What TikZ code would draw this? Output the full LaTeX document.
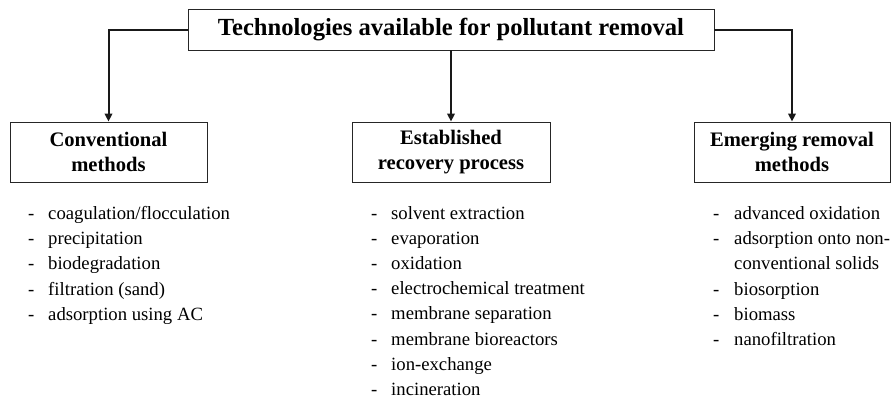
\documentclass[tikz,border=0pt]{standalone}
\usepackage{fontspec}
\setmainfont{Liberation Serif}
\usetikzlibrary{arrows.meta}
\tikzset{
  box/.style={draw=black!85, line width=0.9pt, inner sep=0pt, align=center,
    font=\bfseries\fontsize{20.6}{25}\selectfont},
  conn/.style={draw=black!90, line width=2pt, -{Triangle[width=7.5pt,length=8pt]}},
  lst/.style={anchor=base west, inner sep=0pt, font=\fontsize{18.7}{25.2}\selectfont},
  dsh/.style={anchor=base west, inner sep=0pt, font=\fontsize{18.7}{25.2}\selectfont}
}
\begin{document}
\begin{tikzpicture}[x=1pt,y=-1pt]
\useasboundingbox (0,0) rectangle (892,397);
\node[box, minimum width=526pt, minimum height=41pt, font=\bfseries\fontsize{24.6}{28}\selectfont] (top) at (451,29.5) {Technologies available for pollutant removal};
\node[box, minimum width=197pt, minimum height=60pt] (conv) at (108.5,152) {Conventional\\methods};
\node[box, minimum width=198pt, minimum height=60pt] (est) at (451,152) {Established\\recovery process};
\node[box, minimum width=196pt, minimum height=60pt] (emer) at (792,152) {Emerging removal\\methods};
\draw[conn] (top.west) -| (conv.north);
\draw[conn] (top.south) -- (est.north);
\draw[conn] (top.east) -| (emer.north);
% conventional list
\foreach \t [count=\i from 0] in {coagulation/flocculation,precipitation,biodegradation,filtration (sand),adsorption using AC}{
  \node[dsh] (cd\i) at (28,219.5+25.2*\i) {-};
  \node[lst] (c\i) at (48,219.5+25.2*\i) {\t};
}
% established list
\foreach \t [count=\i from 0] in {solvent extraction,evaporation,oxidation,electrochemical treatment,membrane separation,membrane bioreactors,ion-exchange,incineration}{
  \node[dsh] (ed\i) at (371,219.5+25.1*\i) {-};
  \node[lst] (e\i) at (391,219.5+25.1*\i) {\t};
}
% emerging list
\foreach \t/\d [count=\i from 0] in {advanced oxidation/-,adsorption onto non-/-,conventional solids/,biosorption/-,biomass/-,nanofiltration/-}{
  \node[dsh] (md\i) at (713,219.5+25.2*\i) {\d};
  \node[lst] (m\i) at (734,219.5+25.2*\i) {\t};
}
\end{tikzpicture}
\end{document}
